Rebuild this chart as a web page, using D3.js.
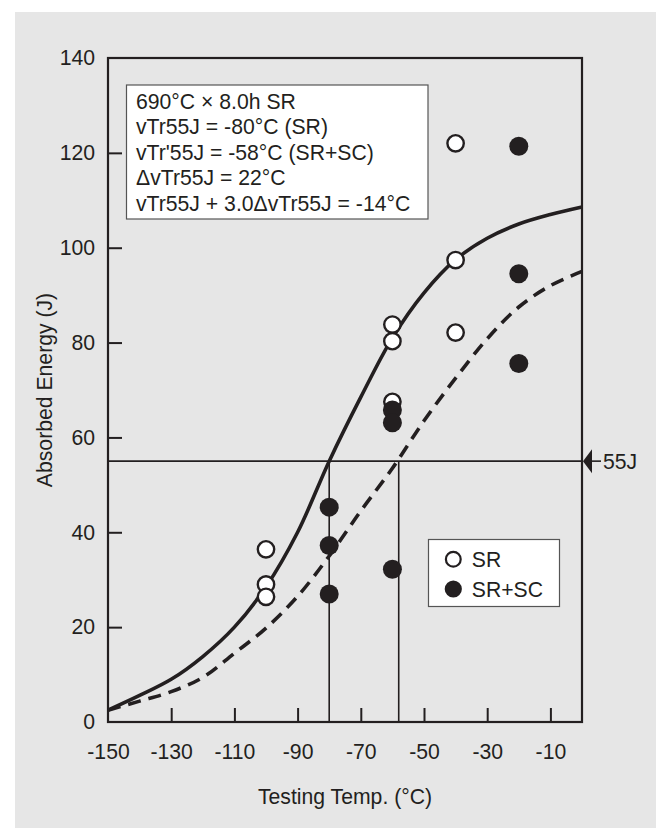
<!DOCTYPE html>
<html>
<head>
<meta charset="utf-8">
<script src="https://cdn.jsdelivr.net/npm/d3@7"></script>
<style>
  html, body { margin: 0; padding: 0; background: #ffffff; }
  svg { display: block; font-family: "Liberation Sans", Arial, Helvetica, sans-serif; }
</style>
</head>
<body>
<svg id="chart" width="656" height="828"></svg>
<script>
// ---- data ----
const srTemps   = [-100, -100, -100, -60, -60, -60, -40, -40, -40];
const srEnergy  = [36.4, 29.0, 26.4, 83.8, 80.3, 67.5, 122.0, 97.4, 82.1];
const scTemps   = [-80, -80, -80, -60, -60, -60, -20, -20, -20];
const scEnergy  = [45.3, 37.2, 27.0, 65.8, 63.1, 32.2, 121.4, 94.5, 75.6];
const curveTemps  = [-150, -140, -130, -120, -110, -100, -90, -80, -70, -60, -50, -40, -30, -20, -10, 0];
const srCurve     = [2.5, 5.6, 9.0, 13.8, 20.0, 28.5, 40.0, 55.0, 68.5, 81.0, 90.5, 97.5, 102.0, 105.0, 107.0, 108.6];
const scCurve     = [2.5, 4.4, 6.4, 9.4, 14.5, 19.8, 26.5, 35.0, 44.5, 53.5, 63.5, 72.5, 80.8, 87.5, 92.0, 95.0];
const xTicks = [-150, -130, -110, -90, -70, -50, -30, -10];
const yTicks = [0, 20, 40, 60, 80, 100, 120, 140];
const refEnergy = 55;
const trSR = -80, trSC = -58;
const infoLines = [
  "690°C × 8.0h SR",
  "vTr55J = -80°C (SR)",
  "vTr'55J = -58°C (SR+SC)",
  "ΔvTr55J = 22°C",
  "vTr55J + 3.0ΔvTr55J = -14°C"
];
const legendItems = [{label: "SR", filled: false}, {label: "SR+SC", filled: true}];

// ---- layout ----
const ink = "#231f20";
const svg = d3.select("#chart");
const L = 108, R = 582, T = 58, B = 722;
const x = d3.scaleLinear().domain([-150, 0]).range([L, R]);
const y = d3.scaleLinear().domain([0, 140]).range([B, T]);
const FS = 21.2;

svg.append("rect").attr("x", 15).attr("y", 12).attr("width", 641).attr("height", 816).attr("fill", "#e6e6e6");

// axes (inward ticks)
const xAxis = svg.append("g").attr("transform", `translate(0,${B})`)
  .call(d3.axisBottom(x).tickValues(xTicks).tickFormat(d => String(d)).tickSizeInner(-14).tickSizeOuter(0).tickPadding(22));
const yAxis = svg.append("g").attr("transform", `translate(${L},0)`)
  .call(d3.axisLeft(y).tickValues(yTicks).tickFormat(d => String(d)).tickSizeInner(-14).tickSizeOuter(0).tickPadding(13));
[xAxis, yAxis].forEach(g => {
  g.select(".domain").remove();
  g.selectAll(".tick line").attr("stroke", ink).attr("stroke-width", 2);
  g.selectAll(".tick text").attr("fill", ink).style("font-size", FS + "px")
    .style("font-family", '"Liberation Sans", Arial, sans-serif');
});
yAxis.selectAll(".tick").filter(d => d === 0 || d === 140).select("line").remove();
xAxis.selectAll(".tick").filter(d => d === -150).select("line").remove();

// frame
svg.append("rect").attr("x", L).attr("y", T).attr("width", R - L).attr("height", B - T)
  .attr("fill", "none").attr("stroke", ink).attr("stroke-width", 2.2);

// reference lines
svg.append("line").attr("x1", L).attr("x2", R).attr("y1", y(refEnergy)).attr("y2", y(refEnergy))
  .attr("stroke", ink).attr("stroke-width", 1.6);
[trSR, trSC].forEach(t => {
  svg.append("line").attr("x1", x(t)).attr("x2", x(t)).attr("y1", y(refEnergy)).attr("y2", B)
    .attr("stroke", ink).attr("stroke-width", 1.6);
});

// curves
const line = d3.line().x(d => x(d[0])).y(d => y(d[1])).curve(d3.curveCatmullRom.alpha(0.5));
svg.append("path").datum(curveTemps.map((t, i) => [t, srCurve[i]])).attr("d", line)
  .attr("fill", "none").attr("stroke", ink).attr("stroke-width", 3.6);
svg.append("path").datum(curveTemps.map((t, i) => [t, scCurve[i]])).attr("d", line)
  .attr("fill", "none").attr("stroke", ink).attr("stroke-width", 3.6).attr("stroke-dasharray", "13,8");

// 55J arrow
const ay = y(refEnergy);
svg.append("path").attr("d", `M${R + 1},${ay} L${R + 10},${ay - 12} L${R + 10},${ay + 12} Z`).attr("fill", ink);
svg.append("line").attr("x1", R + 10).attr("x2", R + 19).attr("y1", ay).attr("y2", ay).attr("stroke", ink).attr("stroke-width", 1.6);
svg.append("text").attr("x", R + 21).attr("y", ay + 7.5).attr("fill", ink).style("font-size", FS + "px").text(refEnergy + "J");

// points
const srPts = srTemps.map((t, i) => [t, srEnergy[i]]);
const scPts = scTemps.map((t, i) => [t, scEnergy[i]]);
svg.append("g").selectAll("circle").data(srPts).join("circle")
  .attr("cx", d => x(d[0])).attr("cy", d => y(d[1])).attr("r", 8.2)
  .attr("fill", "#ffffff").attr("stroke", ink).attr("stroke-width", 2.4);
svg.append("g").selectAll("circle").data(scPts).join("circle")
  .attr("cx", d => x(d[0])).attr("cy", d => y(d[1])).attr("r", 9.5)
  .attr("fill", ink);

// info box
svg.append("rect").attr("x", 126.5).attr("y", 85).attr("width", 301.5).attr("height", 134)
  .attr("fill", "#ffffff").attr("stroke", "#555").attr("stroke-width", 1.2);
svg.append("g").selectAll("text").data(infoLines).join("text")
  .attr("x", 136).attr("y", (d, i) => 109 + i * 25.4)
  .attr("fill", ink).style("font-size", FS + "px").text(d => d);

// legend
svg.append("rect").attr("x", 428.5).attr("y", 539.5).attr("width", 131).attr("height", 67)
  .attr("fill", "#ffffff").attr("stroke", "#555").attr("stroke-width", 1.2);
const lg = svg.append("g").selectAll("g").data(legendItems).join("g")
  .attr("transform", (d, i) => `translate(453.3,${559.3 + i * 29.7})`);
lg.append("circle").attr("r", d => d.filled ? 8.6 : 7.4)
  .attr("fill", d => d.filled ? ink : "#ffffff").attr("stroke", ink).attr("stroke-width", d => d.filled ? 0 : 2.2);
lg.append("text").attr("x", 18.5).attr("y", 7.5).attr("fill", ink).style("font-size", FS + "px").text(d => d.label);

// axis titles
svg.append("text").attr("x", (L + R) / 2).attr("y", 804).attr("text-anchor", "middle")
  .attr("fill", ink).style("font-size", FS + "px").text("Testing Temp. (°C)");
svg.append("text").attr("transform", `translate(52,${(T + B) / 2}) rotate(-90)`).attr("text-anchor", "middle")
  .attr("fill", ink).style("font-size", FS + "px").text("Absorbed Energy (J)");
</script>
</body>
</html>
